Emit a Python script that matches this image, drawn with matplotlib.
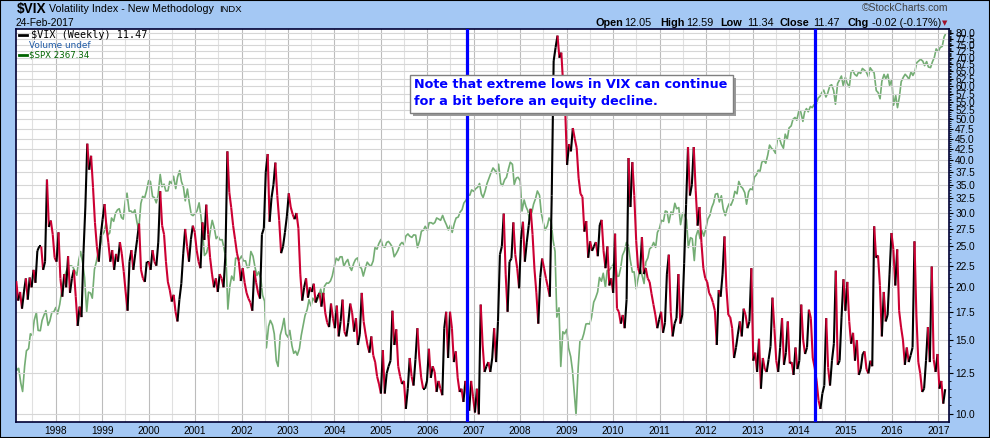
import matplotlib
matplotlib.use("Agg")
import matplotlib.dates as mdates
import matplotlib.pyplot as plt
import numpy as np
import pandas as pd
from matplotlib.collections import LineCollection
from matplotlib.lines import Line2D
from matplotlib.patches import Rectangle
from matplotlib.ticker import FixedLocator, FixedFormatter, NullFormatter

plt.rcParams["font.family"] = ["Liberation Sans", "DejaVu Sans"]

# $VIX weekly closes at ~2 points per month
vix_1997 = [20.7, 18.6, 19.5, 17.8, 19.5, 21.0, 18.7, 21.1, 20.0, 22.0, 20.5, 24.4, 25.0, 25.0, 22.0, 23.0, 36.0, 27.8, 28.8, 26.7, 23.5]
vix_1998 = [23.0, 27.0, 21.0, 19.0, 21.5, 20.0, 23.7, 19.4, 21.0, 22.0, 19.0, 16.2, 18.0, 17.0, 24.0, 31.0, 43.8, 38.0, 41.0, 34.5, 28.5, 25.0, 23.0, 26.5]
vix_1999 = [29.0, 31.5, 27.8, 25.5, 23.0, 24.5, 22.0, 24.0, 23.0, 25.6, 24.0, 21.8, 19.5, 17.6, 23.0, 24.5, 22.0, 24.0, 26.0, 28.3, 22.0, 21.0, 20.6, 23.0]
vix_2000 = [23.0, 22.0, 24.5, 23.0, 22.5, 25.6, 33.8, 28.0, 26.7, 23.0, 20.6, 19.7, 18.5, 19.2, 17.5, 16.6, 18.7, 20.4, 24.0, 27.5, 25.0, 23.0, 26.0, 28.0]
vix_2001 = [27.0, 24.5, 23.0, 22.2, 28.5, 25.9, 31.4, 26.7, 23.5, 21.5, 20.0, 21.0, 19.5, 21.5, 21.0, 20.0, 24.0, 42.0, 33.6, 30.9, 28.0, 26.0, 24.1, 23.0]
vix_2002 = [20.7, 22.2, 20.5, 19.4, 18.8, 18.4, 17.6, 21.9, 20.5, 19.4, 18.8, 26.7, 27.6, 37.5, 41.4, 28.6, 32.6, 35.0, 39.5, 33.0, 28.8, 24.1, 25.0, 27.0]
vix_2003 = [29.5, 33.4, 31.0, 29.8, 29.0, 30.0, 27.6, 21.5, 18.6, 20.0, 21.0, 18.9, 20.0, 19.5, 20.4, 18.4, 19.0, 19.4, 18.0, 19.4, 17.4, 16.5, 16.1, 18.3]
vix_2004 = [16.9, 16.0, 18.1, 15.3, 16.6, 18.7, 15.7, 15.3, 16.5, 18.3, 17.4, 15.7, 16.9, 14.6, 15.5, 19.4, 16.6, 15.5, 14.6, 14.0, 15.3, 13.8, 13.3, 12.3]
vix_2005 = [11.8, 11.2, 14.2, 11.2, 12.5, 13.0, 13.4, 17.6, 14.6, 15.9, 13.0, 12.3, 11.8, 12.0, 10.3, 11.5, 13.6, 12.3, 11.7, 13.5, 16.0, 13.6, 12.2, 11.5]
vix_2006 = [11.5, 12.0, 14.3, 12.2, 13.0, 12.6, 11.3, 12.0, 11.5, 11.1, 16.0, 17.5, 13.6, 17.5, 16.0, 13.3, 14.1, 12.2, 11.3, 11.5, 10.7, 12.0, 11.0, 10.2]
vix_2007 = [12.0, 11.0, 10.1, 11.5, 10.0, 18.2, 14.6, 12.6, 13.0, 13.3, 12.6, 13.6, 16.0, 13.3, 16.6, 23.9, 25.0, 29.9, 21.5, 17.5, 23.0, 23.4, 28.5, 23.9]
vix_2008 = [22.2, 19.9, 26.0, 28.6, 23.0, 25.6, 28.0, 30.7, 26.7, 22.1, 19.4, 16.4, 21.1, 23.4, 22.2, 21.0, 20.0, 19.0, 33.0, 68.8, 74.0, 79.0, 70.0, 72.0]
vix_2009 = [60.0, 53.0, 39.0, 43.7, 42.0, 47.7, 45.0, 42.8, 36.3, 33.3, 32.8, 27.1, 28.7, 23.5, 25.7, 24.4, 25.0, 25.6, 23.7, 28.1, 28.9, 24.4, 22.2, 25.0]
vix_2010 = [20.2, 21.0, 19.4, 26.8, 17.8, 17.5, 16.4, 17.2, 16.0, 18.7, 40.5, 31.0, 39.6, 33.0, 25.8, 22.2, 21.5, 26.3, 21.5, 22.2, 21.0, 20.6, 19.3, 18.2]
vix_2011 = [17.2, 16.0, 16.8, 17.5, 15.6, 16.5, 21.5, 23.9, 17.5, 15.3, 16.4, 16.9, 21.5, 16.4, 17.2, 22.8, 31.4, 43.0, 33.0, 35.0, 43.0, 34.0, 28.0, 31.0]
vix_2012 = [25.5, 22.2, 21.0, 20.6, 19.4, 19.0, 18.4, 17.6, 14.6, 19.7, 19.0, 21.5, 26.4, 20.0, 17.2, 17.0, 16.0, 13.6, 14.4, 15.5, 16.6, 15.3, 17.8, 17.2]
vix_2013 = [16.0, 16.6, 22.2, 13.4, 14.0, 12.6, 15.1, 11.5, 13.6, 12.8, 12.6, 13.5, 14.5, 18.9, 16.0, 13.4, 12.6, 14.4, 16.9, 13.1, 14.0, 16.6, 13.2, 13.3]
vix_2014 = [12.4, 14.4, 12.8, 13.4, 18.2, 15.0, 13.9, 14.4, 17.7, 16.9, 13.6, 12.9, 12.0, 10.8, 10.3, 11.2, 11.7, 16.9, 12.9, 11.7, 13.4, 14.7, 21.9, 13.1]
vix_2015 = [13.4, 17.0, 20.9, 17.6, 20.6, 16.6, 14.7, 15.6, 13.4, 15.0, 12.4, 12.8, 13.9, 14.1, 12.8, 12.5, 13.4, 13.0, 27.9, 23.5, 23.8, 20.2, 15.3, 19.5]
vix_2016 = [16.6, 17.2, 21.5, 26.9, 24.6, 20.2, 24.6, 17.6, 16.1, 15.0, 13.1, 14.4, 13.3, 13.8, 14.4, 25.7, 17.2, 13.3, 12.5, 11.3, 11.5, 13.4, 16.1, 13.3]
vix_2017 = [22.4, 13.5, 12.6, 13.9, 11.5, 12.0, 10.6, 11.47]

# $SPX, 1st and 15th of each month (last point is 24-Feb-2017)
spx_1997 = [810, 790, 795, 757, 737, 801, 842, 848, 890, 885, 930, 954, 900, 899, 930, 947, 960, 915, 928, 955, 955]
spx_1998 = [970, 950, 980, 1020, 1049, 1080, 1102, 1110, 1112, 1108, 1091, 1078, 1134, 1165, 1121, 1070, 957, 1020, 1017, 1000, 1099, 1125, 1164, 1180]
spx_1999 = [1229, 1240, 1280, 1230, 1238, 1300, 1286, 1320, 1335, 1340, 1302, 1295, 1373, 1410, 1329, 1330, 1320, 1335, 1283, 1250, 1363, 1395, 1389, 1420]
spx_2000 = [1469, 1465, 1394, 1390, 1366, 1400, 1499, 1440, 1452, 1420, 1421, 1465, 1455, 1490, 1431, 1485, 1518, 1465, 1437, 1375, 1429, 1370, 1315, 1310]
spx_2001 = [1320, 1330, 1366, 1310, 1240, 1150, 1160, 1190, 1249, 1290, 1256, 1215, 1224, 1210, 1211, 1180, 1134, 965, 1041, 1075, 1060, 1140, 1139, 1135]
spx_2002 = [1148, 1130, 1130, 1105, 1107, 1165, 1147, 1110, 1077, 1090, 1067, 1010, 990, 850, 912, 930, 916, 890, 815, 800, 886, 905, 936, 890]
spx_2003 = [880, 900, 856, 835, 841, 830, 848, 885, 917, 945, 964, 995, 975, 1000, 990, 990, 1008, 1030, 996, 1040, 1051, 1050, 1058, 1075]
spx_2004 = [1112, 1140, 1131, 1145, 1145, 1110, 1126, 1135, 1107, 1095, 1121, 1135, 1141, 1110, 1102, 1075, 1104, 1125, 1115, 1110, 1130, 1180, 1174, 1195]
spx_2005 = [1212, 1185, 1181, 1200, 1204, 1195, 1181, 1145, 1157, 1170, 1192, 1200, 1191, 1225, 1234, 1225, 1220, 1230, 1229, 1180, 1207, 1245, 1249, 1265]
spx_2006 = [1248, 1280, 1280, 1275, 1281, 1300, 1295, 1290, 1311, 1290, 1270, 1250, 1270, 1240, 1277, 1300, 1304, 1325, 1336, 1365, 1378, 1400, 1401, 1425]
spx_2007 = [1418, 1430, 1438, 1455, 1407, 1390, 1421, 1455, 1482, 1505, 1531, 1520, 1503, 1550, 1455, 1445, 1474, 1485, 1527, 1560, 1549, 1450, 1481, 1485]
spx_2008 = [1468, 1330, 1379, 1350, 1331, 1290, 1323, 1360, 1386, 1420, 1400, 1320, 1280, 1250, 1267, 1300, 1283, 1210, 1165, 940, 969, 800, 896, 890]
spx_2009 = [903, 850, 826, 790, 735, 683, 798, 870, 873, 890, 919, 920, 919, 940, 987, 1000, 1021, 1070, 1057, 1085, 1036, 1095, 1096, 1105]
spx_2010 = [1115, 1136, 1074, 1075, 1104, 1150, 1169, 1200, 1187, 1135, 1089, 1090, 1031, 1065, 1102, 1080, 1049, 1125, 1141, 1175, 1183, 1200, 1181, 1240]
spx_2011 = [1258, 1290, 1286, 1330, 1327, 1280, 1326, 1315, 1364, 1340, 1345, 1272, 1321, 1315, 1292, 1180, 1219, 1215, 1131, 1225, 1253, 1215, 1247, 1225]
spx_2012 = [1258, 1295, 1312, 1345, 1366, 1405, 1408, 1370, 1398, 1340, 1310, 1340, 1362, 1355, 1379, 1418, 1407, 1465, 1441, 1433, 1412, 1360, 1416, 1430]
spx_2013 = [1426, 1485, 1498, 1520, 1515, 1560, 1569, 1555, 1598, 1650, 1631, 1625, 1606, 1680, 1686, 1655, 1633, 1710, 1682, 1745, 1757, 1795, 1806, 1790]
spx_2014 = [1848, 1840, 1783, 1840, 1859, 1840, 1872, 1865, 1884, 1880, 1924, 1935, 1960, 1975, 1931, 1955, 2003, 2010, 1972, 1886, 2018, 2040, 2068, 2005]
spx_2015 = [2059, 2020, 1995, 2095, 2105, 2080, 2068, 2095, 2086, 2120, 2107, 2095, 2063, 2125, 2104, 2090, 1972, 1960, 1920, 2033, 2079, 2050, 2080, 2005]
spx_2016 = [2044, 1880, 1940, 1865, 1932, 2030, 2060, 2080, 2065, 2046, 2097, 2072, 2099, 2160, 2174, 2185, 2171, 2140, 2168, 2130, 2126, 2165, 2199, 2260]
spx_2017 = [2239, 2270, 2279, 2349, 2367.34]

marker_dates = ["2006-11-08", "2014-05-08"]
year_labels = list(range(1998, 2018))
vix_ticks = [10 + 2.5 * i for i in range(29)]

vix = np.array(vix_1997 + vix_1998 + vix_1999 + vix_2000 + vix_2001 + vix_2002 + vix_2003
               + vix_2004 + vix_2005 + vix_2006 + vix_2007 + vix_2008 + vix_2009 + vix_2010
               + vix_2011 + vix_2012 + vix_2013 + vix_2014 + vix_2015 + vix_2016 + vix_2017)
vix_dates = pd.date_range("1997-02-24", "2017-02-24", periods=len(vix))
spx = np.array(spx_1997 + spx_1998 + spx_1999 + spx_2000 + spx_2001 + spx_2002 + spx_2003
               + spx_2004 + spx_2005 + spx_2006 + spx_2007 + spx_2008 + spx_2009 + spx_2010
               + spx_2011 + spx_2012 + spx_2013 + spx_2014 + spx_2015 + spx_2016 + spx_2017, dtype=float)
spx_dates = pd.date_range("1997-02-15", periods=len(spx) - 1, freq="SMS").append(
    pd.DatetimeIndex(["2017-02-24"]))

W, H = 990, 438
BG = "#a4c8f4"
RED = "#cc0033"


def fx(px):
    return px / W


def fy(py):
    return 1 - py / H


fig = plt.figure(figsize=(W / 100, H / 100), dpi=100, facecolor=BG)
rect = [fx(16), fy(422), fx(949) - fx(16), fy(29) - fy(422)]
xlim = (mdates.date2num(pd.Timestamp("1997-02-22")), mdates.date2num(pd.Timestamp("2017-03-26")))

# SPX sits underneath on its own (hidden) log scale
ax_spx = fig.add_axes(rect, zorder=1)
ax_spx.set_facecolor("white")
ax_spx.plot(mdates.date2num(spx_dates), spx, color="#74ad74", lw=1.2)
ax_spx.set_yscale("log")
ax_spx.set_ylim(667, 2412)
ax_spx.set_xlim(*xlim)
ax_spx.set_xticks([])
ax_spx.set_yticks([])
ax_spx.yaxis.set_minor_locator(FixedLocator([]))
for s in ax_spx.spines.values():
    s.set_visible(False)

ax = fig.add_axes(rect, zorder=2)
ax.patch.set_visible(False)
ax.set_axisbelow(True)

# VIX line: black on up weeks, red on down weeks
x = mdates.date2num(vix_dates)
pts = np.column_stack([x, vix])
segs = np.stack([pts[:-1], pts[1:]], axis=1)
cols = np.where(np.diff(vix) >= 0, "black", RED)
ax.add_collection(LineCollection(segs, colors=cols, linewidths=1.5, zorder=3))

for d in marker_dates:
    ax.axvline(mdates.date2num(pd.Timestamp(d)), color="#0000ff", lw=2.3, zorder=4)

ax.set_yscale("log")
ax.set_ylim(9.59, 81.9)
ax.set_xlim(*xlim)
ax.yaxis.tick_right()
ax.yaxis.set_major_locator(FixedLocator(vix_ticks))
ax.yaxis.set_major_formatter(FixedFormatter([f"{v:.1f}" for v in vix_ticks]))
ax.yaxis.set_minor_locator(FixedLocator([v for v in np.arange(9.5, 82, 0.5) if v % 2.5]))
ax.yaxis.set_minor_formatter(NullFormatter())
ax.xaxis.set_major_locator(FixedLocator([mdates.date2num(pd.Timestamp(f"{y}-01-01")) for y in year_labels]))
ax.xaxis.set_major_formatter(FixedFormatter([str(y) for y in year_labels]))
ax.xaxis.set_minor_locator(FixedLocator([mdates.date2num(pd.Timestamp(f"{y}-07-01")) for y in range(1997, 2017)]))

ax.tick_params(axis="x", which="both", length=0, pad=3, labelsize=7.3)
ax.tick_params(axis="y", which="major", length=3, width=0.8, pad=1.5, labelsize=7.3)
ax.tick_params(axis="y", which="minor", length=1.5, width=0.6)
ax.grid(which="major", axis="y", color="#d6d6d6", lw=0.8)
ax.grid(which="major", axis="x", color="#bcbcbc", lw=0.8)
ax.grid(which="minor", axis="x", color="#e0e0e0", lw=0.8)
for s in ax.spines.values():
    s.set_color("#000033")
    s.set_linewidth(1.2)

# header
fig.text(fx(16.5), fy(9), "$VIX", fontsize=9.8, fontweight="bold", va="center")
fig.text(fx(49), fy(9.5), "Volatility Index - New Methodology", fontsize=7.7, va="center")
fig.text(fx(219), fy(9.5), "INDX", fontsize=6.8, va="center")
fig.text(fx(16), fy(22.7), "24-Feb-2017", fontsize=7.4, va="center")
fig.text(fx(948), fy(8), "\u00a9StockCharts.com", fontsize=7.5, va="center", ha="right", color="#404040")

ohlc = [(595, "Open", True), (624, "12.05", False), (660, "High", True), (686, "12.59", False),
        (720, "Low", True), (747, "11.34", False), (780, "Close", True), (813, "11.47", False),
        (848, "Chg", True), (872, "-0.02 (-0.17%)", False)]
for px, s, bold in ohlc:
    fig.text(fx(px), fy(22.7), s, fontsize=7.8, va="center",
             fontweight="bold" if bold else "normal")
fig.text(fx(945), fy(23), "\u25bc", fontsize=5, va="center", ha="center", color="#a0102a",
         family="DejaVu Sans")

# in-plot legend
fig.add_artist(Line2D([fx(19), fx(27)], [fy(34.5), fy(34.5)], color="black", lw=2))
fig.text(fx(31.5), fy(34.5), "$VIX (Weekly) 11.47", fontsize=7.3, va="center", family="DejaVu Sans Mono")
for bx, bh in [(17.5, 5), (20.5, 7), (23.5, 4)]:
    fig.add_artist(Rectangle((fx(bx), fy(48)), 2 / W, bh / H, transform=fig.transFigure,
                             color="#1f5aa6", lw=0))
fig.text(fx(29.3), fy(45), "Volume undef", fontsize=6.4, va="center", color="#1f5aa6",
         family="DejaVu Sans")
fig.add_artist(Line2D([fx(19), fx(27)], [fy(54.7), fy(54.7)], color="#006400", lw=2))
fig.text(fx(29.3), fy(55), "$SPX 2367.34", fontsize=6.2, va="center", color="#006400",
         family="DejaVu Sans")

# note box with drop shadow
fig.add_artist(Rectangle((fx(413), fy(116)), 323 / W, 38 / H, transform=fig.transFigure,
                         facecolor="#9a9a9a", lw=0, zorder=5))
fig.add_artist(Rectangle((fx(410), fy(113)), 323 / W, 38 / H, transform=fig.transFigure,
                         facecolor="white", edgecolor="#7f7f7f", lw=1, zorder=6))
fig.text(fx(413.5), fy(85), "Note that extreme lows in VIX can continue", fontsize=9.2,
         fontweight="bold", color="#0000ff", va="center", family="DejaVu Sans", zorder=7)
fig.text(fx(413.5), fy(101.5), "for a bit before an equity decline.", fontsize=9.2,
         fontweight="bold", color="#0000ff", va="center", family="DejaVu Sans", zorder=7)

fig.add_artist(Rectangle((0, 0), 1, 1, transform=fig.transFigure, fill=False,
                         edgecolor="black", lw=1.5))

fig.savefig("out.png", dpi=100, facecolor=BG)
